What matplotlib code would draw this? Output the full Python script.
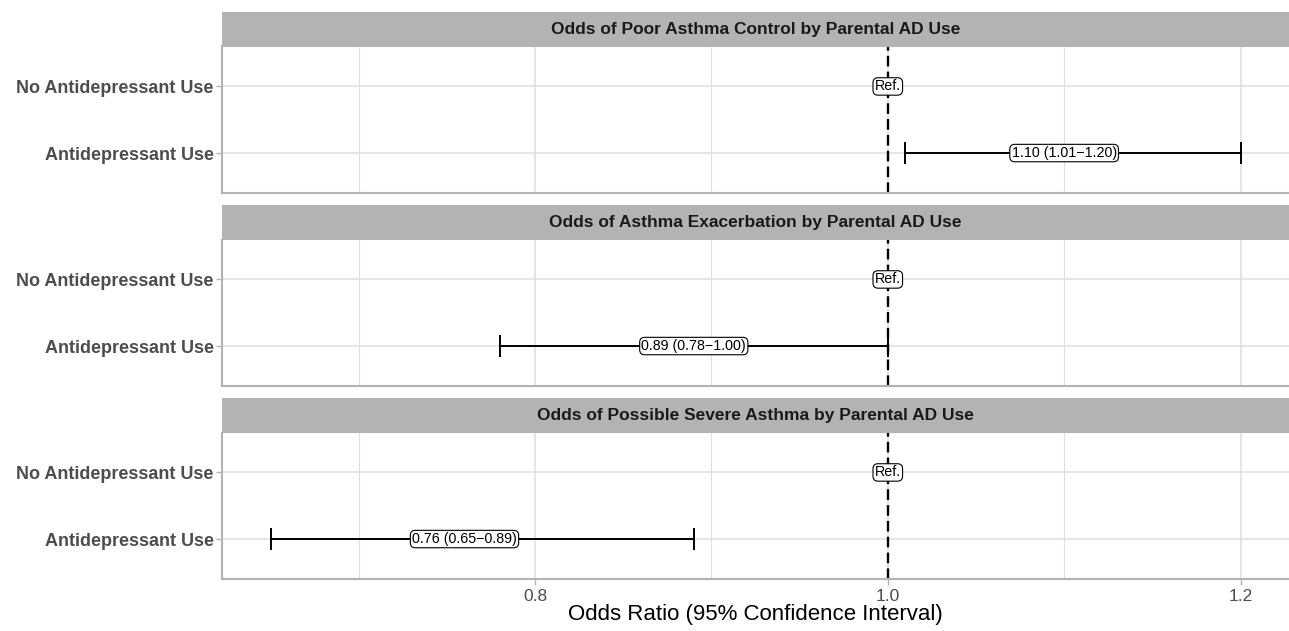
import numpy as np
import matplotlib
matplotlib.use('Agg')
import matplotlib.pyplot as plt
from matplotlib.patches import Rectangle

plt.rcParams['font.family'] = ['Liberation Sans', 'DejaVu Sans']

panel_titles = ['Odds of Poor Asthma Control by Parental AD Use',
                'Odds of Asthma Exacerbation by Parental AD Use',
                'Odds of Possible Severe Asthma by Parental AD Use']
row_labels = ['Antidepressant Use', 'No Antidepressant Use']
odds = [1.10, 0.89, 0.76]
lower = [1.01, 0.78, 0.65]
upper = [1.20, 1.00, 0.89]
ref_value = 1.0
major_ticks = [0.8, 1.0, 1.2]
minor_ticks = [0.7, 0.9, 1.1]

W, H = 1289, 631
fig = plt.figure(figsize=(W / 100, H / 100), dpi=100)

# pixel layout of each panel: (strip top, axes top, axes bottom)
panels = [(12, 46.5, 193), (205, 239.5, 386), (398, 432.5, 579)]
left, right = 222, 1289
grid_col = '#DEDEDE'
axis_col = '#B3B3B3'

lo_all = min(lower + [ref_value])
hi_all = max(upper + [ref_value])
pad = (hi_all - lo_all) * 0.05
xlim = (lo_all - pad, hi_all + pad)

for i, (s_top, a_top, a_bot) in enumerate(panels):
    ax = fig.add_axes([left / W, 1 - a_bot / H, (right - left) / W, (a_bot - a_top) / H])
    ax.set_xlim(*xlim)
    ax.set_ylim(0.4, 2.6)
    ax.set_xticks(major_ticks)
    ax.set_xticks(minor_ticks, minor=True)
    ax.set_yticks([1, 2])
    ax.set_yticklabels(row_labels, fontsize=13, fontweight='bold', color='#4D4D4D')
    ax.grid(True, which='major', color=grid_col, lw=1.1)
    ax.grid(True, which='minor', axis='x', color=grid_col, lw=0.8)
    ax.set_axisbelow(True)
    for sp in ['top', 'right']:
        ax.spines[sp].set_visible(False)
    for sp in ['left', 'bottom']:
        ax.spines[sp].set_color(axis_col)
        ax.spines[sp].set_linewidth(1.5)
    ax.tick_params(axis='both', which='major', color=axis_col, length=4, width=1)
    ax.tick_params(axis='x', which='minor', length=0)
    ax.tick_params(axis='y', pad=2)
    if i < len(panels) - 1:
        ax.tick_params(axis='x', which='major', labelbottom=False, length=0)
    else:
        ax.tick_params(axis='x', labelsize=12.5, labelcolor='#4D4D4D', pad=3)
        ax.set_xlabel('Odds Ratio (95% Confidence Interval)', fontsize=16, color='black', labelpad=0)

    ax.axvline(ref_value, color='black', lw=1.7, ls=(0, (4.5, 2.2)), zorder=2)
    ax.errorbar([odds[i]], [1], xerr=[[odds[i] - lower[i]], [upper[i] - odds[i]]],
                fmt='none', ecolor='black', elinewidth=1.4, capsize=8, capthick=1.4, zorder=3)
    box = dict(boxstyle='round,pad=0.12,rounding_size=0.35', fc='white', ec='black', lw=0.8)
    ax.text(odds[i], 1, f'{odds[i]:.2f} ({lower[i]:.2f}\u2212{upper[i]:.2f})',
            ha='center', va='center', fontsize=10.3, bbox=box, zorder=4)
    ax.text(ref_value, 2, 'Ref.', ha='center', va='center', fontsize=10.3, bbox=box, zorder=4)

    # facet strip
    sax = fig.add_axes([left / W, 1 - a_top / H, (right - left) / W, (a_top - s_top) / H])
    sax.set_axis_off()
    sax.add_patch(Rectangle((0, 0), 1, 1, transform=sax.transAxes, fc='#B3B3B3', ec='none'))
    sax.text(0.5, 0.5, panel_titles[i], ha='center', va='center', fontsize=12.5,
             fontweight='bold', color='#1A1A1A', transform=sax.transAxes)

fig.savefig('out.png', dpi=100)
